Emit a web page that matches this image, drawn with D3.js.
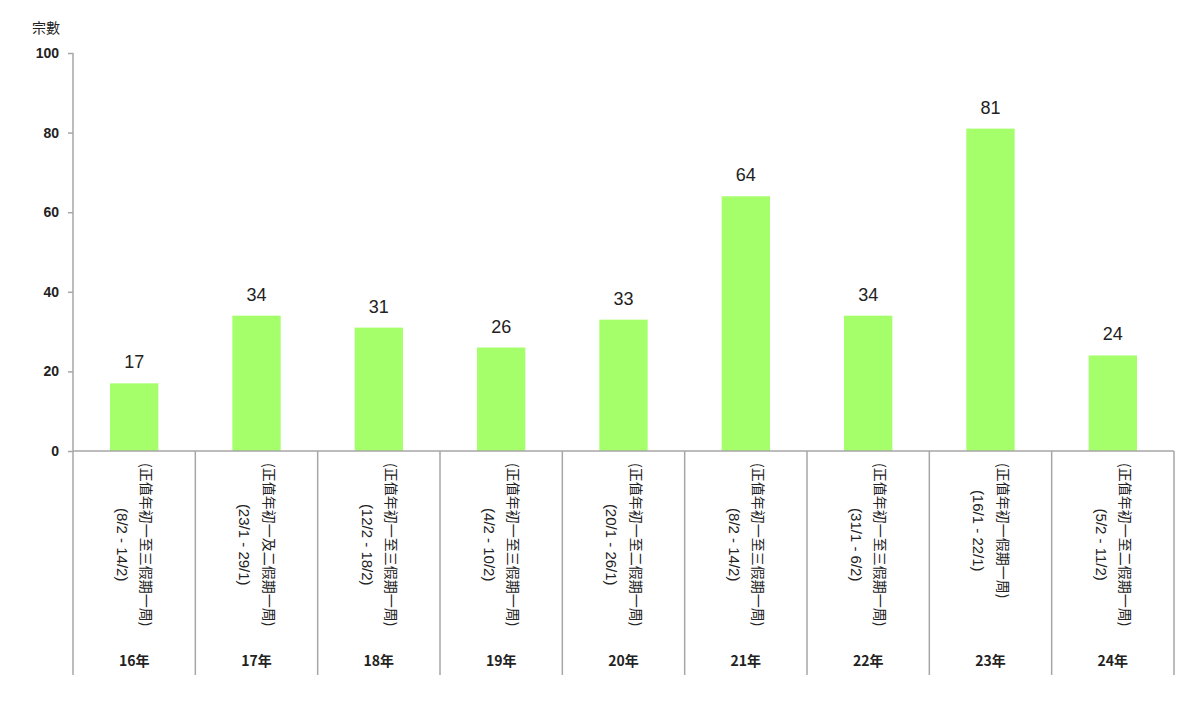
<!DOCTYPE html>
<html>
<head>
<meta charset="utf-8">
<script src="https://cdn.jsdelivr.net/npm/d3@7"></script>
<style>
  html, body { margin: 0; padding: 0; background: #fff; }
  svg { display: block; }
  text { font-family: "Liberation Sans", Arial, "Noto Sans CJK TC", sans-serif; fill: #222; }
</style>
</head>
<body>
<svg id="chart" width="1200" height="701"></svg>
<script>
// ---- data ----
const years = ["16年", "17年", "18年", "19年", "20年", "21年", "22年", "23年", "24年"];
const dateRanges = ["(8/2 - 14/2)", "(23/1 - 29/1)", "(12/2 - 18/2)", "(4/2 - 10/2)", "(20/1 - 26/1)",
                    "(8/2 - 14/2)", "(31/1 - 6/2)", "(16/1 - 22/1)", "(5/2 - 11/2)"];
const notes = ["(正值年初一至三假期一周)", "(正值年初一及二假期一周)", "(正值年初一至三假期一周)",
               "(正值年初一至三假期一周)", "(正值年初一至二假期一周)", "(正值年初一至三假期一周)",
               "(正值年初一至三假期一周)", "(正值年初一假期一周)", "(正值年初一至二假期一周)"];
const values = [17, 34, 31, 26, 33, 64, 34, 81, 24];
const yTicks = [0, 20, 40, 60, 80, 100];
const yTitle = "宗數";

// ---- layout ----
const mLeft = 73, mRight = 1174, mTop = 53, mBase = 451, mBottom = 675;
const svg = d3.select("#chart");
const axisColor = "#a6a6a6";

const x = d3.scaleBand().domain(years).range([mLeft, mRight]).paddingInner(0).paddingOuter(0);
const y = d3.scaleLinear().domain([0, 100]).range([mBase, mTop]);
const barW = x.bandwidth() * 0.395;

// bars
svg.append("g").selectAll("rect").data(values).join("rect")
  .attr("x", (d, i) => x(years[i]) + x.bandwidth() / 2 - barW / 2)
  .attr("y", d => y(d))
  .attr("width", barW)
  .attr("height", d => mBase - y(d))
  .attr("fill", "#a4ff6a");

// value labels
svg.append("g").selectAll("text").data(values).join("text")
  .attr("x", (d, i) => x(years[i]) + x.bandwidth() / 2)
  .attr("y", d => y(d) - 15)
  .attr("text-anchor", "middle")
  .style("font-size", "18px")
  .text(d => d);

// y axis
const yAxis = d3.axisLeft(y).tickValues(yTicks).tickSize(5).tickPadding(9).tickSizeOuter(0);
const gy = svg.append("g").attr("transform", `translate(${mLeft},0)`).call(yAxis);
gy.select(".domain").remove();
gy.selectAll(".tick line").attr("stroke", axisColor).attr("stroke-width", 1.5);
gy.selectAll(".tick text").style("font-size", "14px").style("font-weight", "bold")
  .style("font-family", "'Liberation Sans', Arial, sans-serif").attr("fill", "#333");
svg.append("line").attr("x1", mLeft).attr("x2", mLeft).attr("y1", mTop).attr("y2", mBottom)
  .attr("stroke", axisColor).attr("stroke-width", 1.5);

// baseline
svg.append("line").attr("x1", mLeft).attr("x2", mRight).attr("y1", mBase).attr("y2", mBase)
  .attr("stroke", axisColor).attr("stroke-width", 1.5);

// category separators
svg.append("g").selectAll("line").data(years.slice(1).concat(["__end"])).join("line")
  .attr("x1", (d, i) => i < years.length - 1 ? x(d) : mRight)
  .attr("x2", (d, i) => i < years.length - 1 ? x(d) : mRight)
  .attr("y1", mBase).attr("y2", mBottom)
  .attr("stroke", axisColor).attr("stroke-width", 1.5);

// y title
svg.append("text").attr("x", 46).attr("y", 33).attr("text-anchor", "middle")
  .style("font-size", "14px").style("font-family", "'Noto Sans CJK TC', sans-serif")
  .attr("fill", "#333").text(yTitle);

// rotated labels
const lab = svg.append("g");
years.forEach((yr, i) => {
  const cx = x(yr) + x.bandwidth() / 2;
  const g = lab.append("g");
  const t1 = g.append("text").attr("text-anchor", "middle")
    .style("font-size", "14px").style("font-family", "'Noto Sans CJK TC', sans-serif")
    .text(notes[i]);
  const t2 = g.append("text").attr("text-anchor", "middle")
    .style("font-size", "15px").style("font-family", "'Liberation Sans', Arial, sans-serif")
    .text(dateRanges[i]);
  const maxLen = Math.max(t1.node().getComputedTextLength(), t2.node().getComputedTextLength());
  const cy = 463 + maxLen / 2;
  t1.attr("transform", `translate(${cx + 12},${cy}) rotate(90)`).attr("dy", "0.35em");
  t2.attr("transform", `translate(${cx - 12},${cy}) rotate(90)`).attr("dy", "0.35em");
  g.append("text").attr("x", cx).attr("y", 666).attr("text-anchor", "middle")
    .style("font-size", "14px").style("font-weight", "bold")
    .style("font-family", "'Noto Sans CJK TC', sans-serif").attr("fill", "#333")
    .text(yr);
});
</script>
</body>
</html>
